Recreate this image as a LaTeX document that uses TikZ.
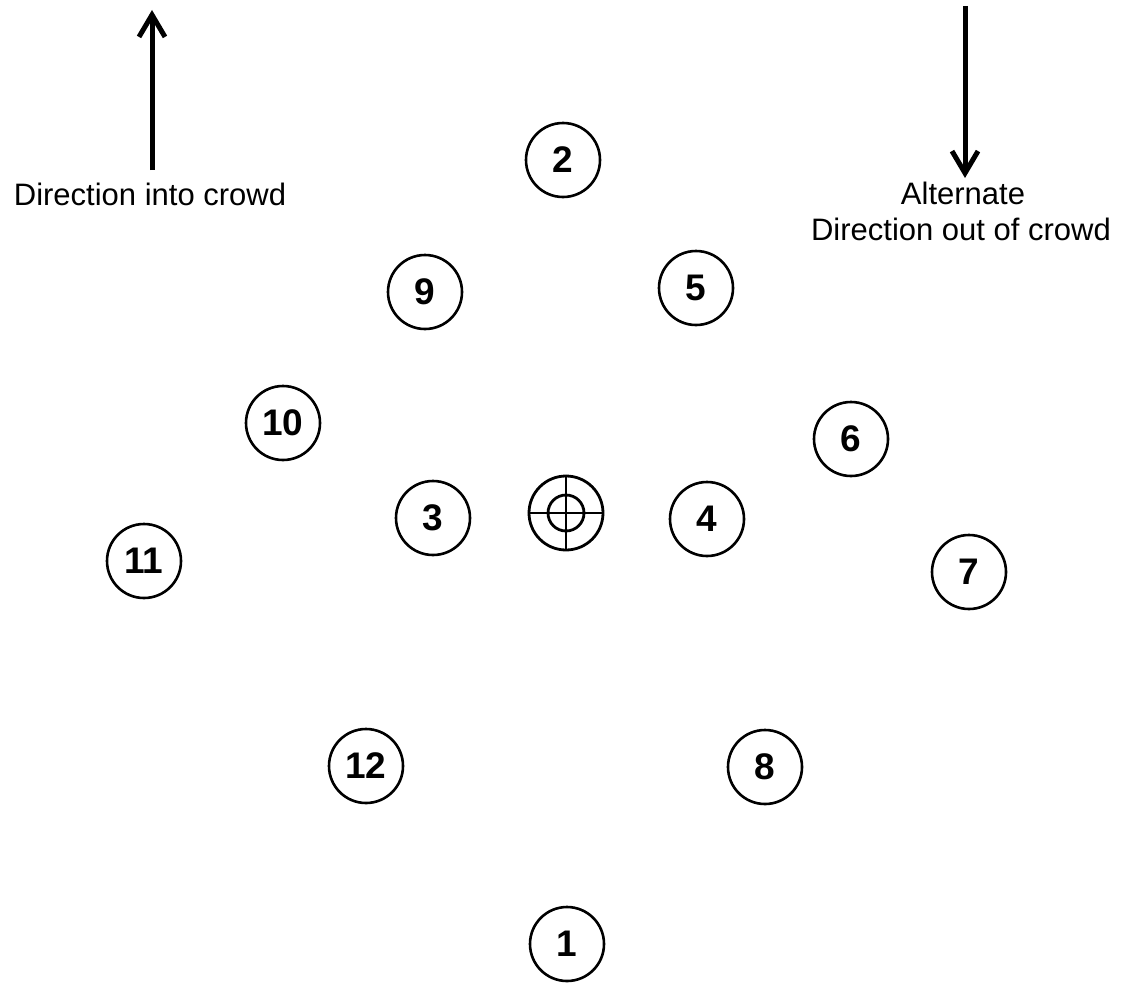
\documentclass[tikz,border=0pt]{standalone}
\usepackage{fontspec}
\setmainfont{Liberation Sans}
\usetikzlibrary{arrows.meta}
\tikzset{
  spot/.style={circle, draw, line width=2.6pt, minimum size=74pt, inner sep=0pt,
    font=\fontsize{37}{37}\selectfont\bfseries},
  lbl/.style={anchor=base, inner sep=0pt, font=\fontsize{31}{36}\selectfont},
  bigarrow/.style={line width=5pt, -{Straight Barb[length=22pt,width=26pt,line width=5pt]}},
  ring/.style={circle, draw, line width=2.8pt, inner sep=0pt},
  cross/.style={line width=1.4pt}
}
\begin{document}
\begin{tikzpicture}[x=1pt,y=-1pt]
\useasboundingbox (0,0) rectangle (1126,982);
% direction arrows
\coordinate (upS) at (152,170);
\coordinate (upT) at (152,10);
\draw[bigarrow] (upS) -- (upT);
\node[lbl] (intolbl) at (150,205) {Direction into crowd};
\coordinate (dnS) at (965,6);
\coordinate (dnT) at (965,178);
\draw[bigarrow] (dnS) -- (dnT);
\node[lbl] (altlbl) at (963,204) {Alternate};
\node[lbl] (outlbl) at (961,240) {Direction out of crowd};
% numbered positions
\node[spot] (p2) at (563,160) {2};
\node[spot] (p9) at (425,292) {9};
\node[spot] (p5) at (696,288) {5};
\node[spot] (p10) at (283,423) {10};
\node[spot] (p6) at (851,439) {6};
\node[spot] (p3) at (433,518) {3};
\node[spot] (p4) at (707,519) {4};
\node[spot] (p11) at (144,561) {11};
\node[spot] (p7) at (969,572) {7};
\node[spot] (p12) at (366,766) {12};
\node[spot] (p8) at (765,767) {8};
\node[spot] (p1) at (567,944) {1};
% target
\node[ring, minimum size=74pt] (tgt) at (566,513) {};
\node[ring, minimum size=36pt] (tgtin) at (566,513) {};
\draw[cross] (tgt.north) -- (tgt.south);
\draw[cross] (tgt.west) -- (tgt.east);
\end{tikzpicture}
\end{document}
